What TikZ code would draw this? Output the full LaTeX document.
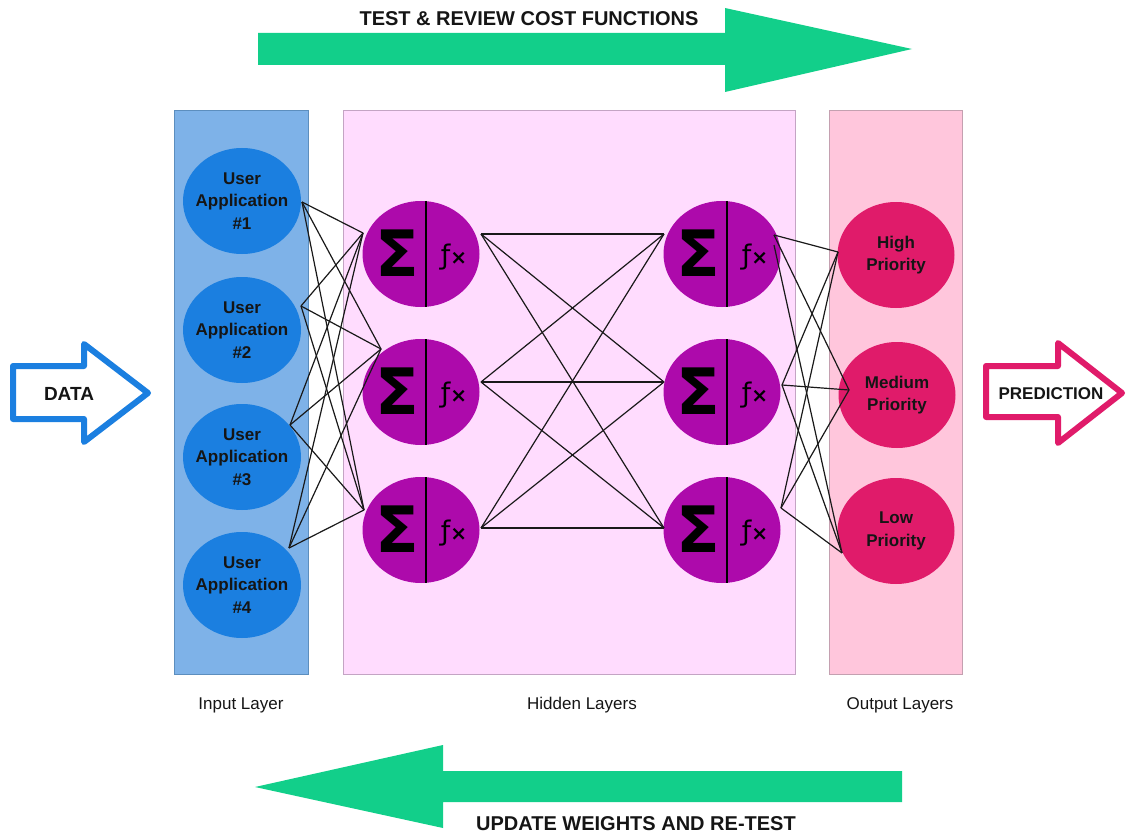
\documentclass[tikz,border=0pt]{standalone}
\usepackage{fontspec}
\setmainfont{Liberation Sans}
\newfontfamily\dejavu{DejaVu Sans}
\usetikzlibrary{shapes.geometric,calc}
\definecolor{inpanel}{HTML}{7EB2E8}
\definecolor{inpanelb}{HTML}{5C8EBE}
\definecolor{inblue}{HTML}{1B7FE0}
\definecolor{hidpanel}{HTML}{FFDCFE}
\definecolor{hidpanelb}{HTML}{C4A4C4}
\definecolor{hidpurple}{HTML}{AD0AAB}
\definecolor{outpanel}{HTML}{FFC6DC}
\definecolor{outpanelb}{HTML}{C4A0B0}
\definecolor{outpink}{HTML}{E01B6A}
\definecolor{greenarrow}{HTML}{12CF8A}
\definecolor{txt}{HTML}{151515}
\begin{document}
\begin{tikzpicture}[x=1pt,y=-1pt,
  panelbox/.style={line width=1pt},
  nodetext/.style={align=center,text=txt,font=\fontsize{17}{22.5}\selectfont\bfseries},
  innode/.style={ellipse,fill=inblue,minimum width=118pt,minimum height=106pt,inner sep=0pt},
  hidnode/.style={ellipse,fill=hidpurple,minimum width=117pt,minimum height=106pt,inner sep=0pt},
  outnode/.style={ellipse,fill=outpink,minimum width=117pt,minimum height=106pt,inner sep=0pt},
  sigmatext/.style={text=black,font=\dejavu\bfseries\fontsize{64}{64}\selectfont,inner sep=0pt},
  fxtext/.style={text=black,inner sep=0pt},
  layerlabel/.style={text=txt,font=\fontsize{17}{20}\selectfont},
  bigtitle/.style={text=txt,font=\fontsize{20}{24}\selectfont\bfseries},
  wire/.style={draw=black!90,line width=1.2pt},
  hollowarrow/.style={line width=6pt,line join=round,fill=white},
]
\useasboundingbox (0,0) rectangle (1128,840);

% panels
\draw[panelbox,fill=inpanel,draw=inpanelb] (174,111) rectangle (308,674);
\draw[panelbox,fill=hidpanel,draw=hidpanelb] (343,111) rectangle (795,674);
\draw[panelbox,fill=outpanel,draw=outpanelb] (829,111) rectangle (962,674);

% green arrows
\fill[greenarrow] (258,33) -- (725,33) -- (725,8) -- (912,49) -- (725,92) -- (725,65) -- (258,65) -- cycle;
\fill[greenarrow] (902,771) -- (443,771) -- (443,745) -- (255,787) -- (443,828) -- (443,802) -- (902,802) -- cycle;
\node[bigtitle] (toptext) at (529,19) {TEST \& REVIEW COST FUNCTIONS};
\node[bigtitle] (bottext) at (636,824) {UPDATE WEIGHTS AND RE-TEST};

% hollow arrows
\draw[hollowarrow,draw=inblue] (13,366) -- (84,366) -- (84,344) -- (148,393) -- (84,442) -- (84,419) -- (13,419) -- cycle;
\node[nodetext,font=\fontsize{19}{20}\selectfont\bfseries] (data) at (69,394) {DATA};
\draw[hollowarrow,draw=outpink] (986,366) -- (1058,366) -- (1058,343) -- (1122,393) -- (1058,443) -- (1058,417) -- (986,417) -- cycle;
\node[nodetext] (pred) at (1051,394) {PREDICTION};

% input nodes
\node[innode,label={[nodetext]center:User\\Application\\\#1}] (in1) at (242,201) {};
\node[innode,label={[nodetext]center:User\\Application\\\#2}] (in2) at (242,330) {};
\node[innode,label={[nodetext]center:User\\Application\\\#3}] (in3) at (242,457) {};
\node[innode,label={[nodetext]center:User\\Application\\\#4}] (in4) at (242,585) {};

% hidden nodes
\foreach \n/\cx/\cy in {h1/421/254,h2/421/392,h3/421/530,r1/722/254,r2/722/392,r3/722/530}{
  \node[hidnode] (\n) at (\cx,\cy) {};
  \draw[line width=2.8pt,black] ($(\n)+(5,-53)$) -- ($(\n)+(5,53)$);
  \node[sigmatext] (\n s) at ($(\n)+(-24,-1)$) {Σ};
  \node[fxtext] (\n f) at ($(\n)+(33,3)$) {{\dejavu\fontsize{27}{27}\selectfont ƒ}{\dejavu\bfseries\fontsize{20}{20}\selectfont ×}};
}

% output nodes
\node[outnode,label={[nodetext]center:High\\Priority}] (hi) at (896,255) {};
\node[outnode,label={[nodetext]center:Medium\\Priority}] (med) at (897,395) {};
\node[outnode,label={[nodetext]center:Low\\Priority}] (lo) at (896,531) {};

% ports
\coordinate (in1o) at ($(in1)+(60,1)$);
\coordinate (in2o) at ($(in2)+(59,-24)$);
\coordinate (in3o) at ($(in3)+(48,-32)$);
\coordinate (in4o) at ($(in4)+(47,-37)$);
\coordinate (h1i) at ($(h1)+(-58,-21)$);
\coordinate (h2i) at ($(h2)+(-40,-43)$);
\coordinate (h3i) at ($(h3)+(-57,-20)$);
\coordinate (h1o) at ($(h1)+(60,-20)$);
\coordinate (h2o) at ($(h2)+(60,-10)$);
\coordinate (h3o) at ($(h3)+(60,-2)$);
\coordinate (r1i) at ($(r1)+(-58,-20)$);
\coordinate (r2i) at ($(r2)+(-58,-10)$);
\coordinate (r3i) at ($(r3)+(-58,-2)$);
\coordinate (r1oa) at ($(r1)+(52,-19)$);
\coordinate (r1ob) at ($(r1)+(52,-9)$);
\coordinate (r2o) at ($(r2)+(60,-7)$);
\coordinate (r3o) at ($(r3)+(59,-22)$);
\coordinate (hii) at ($(hi)+(-58,-3)$);
\coordinate (medi) at ($(med)+(-48,-5)$);
\coordinate (loi) at ($(lo)+(-54,22)$);

% wires
\foreach \a in {in1o,in2o,in3o,in4o}{
  \foreach \b in {h1i,h2i,h3i}{ \draw[wire] (\a) -- (\b); }
}
\foreach \a in {h1o,h2o,h3o}{
  \foreach \b in {r1i,r2i,r3i}{ \draw[wire] (\a) -- (\b); }
}
\draw[wire] (r1oa) -- (hii);
\draw[wire] (r1oa) -- (medi);
\draw[wire] (r1ob) -- (loi);
\foreach \a in {r2o,r3o}{
  \foreach \b in {hii,medi,loi}{ \draw[wire] (\a) -- (\b); }
}

% layer labels
\node[layerlabel] (linput) at (241,705) {Input Layer};
\node[layerlabel] (lhidden) at (582,705) {Hidden Layers};
\node[layerlabel] (loutput) at (900,705) {Output Layers};
\end{tikzpicture}
\end{document}
